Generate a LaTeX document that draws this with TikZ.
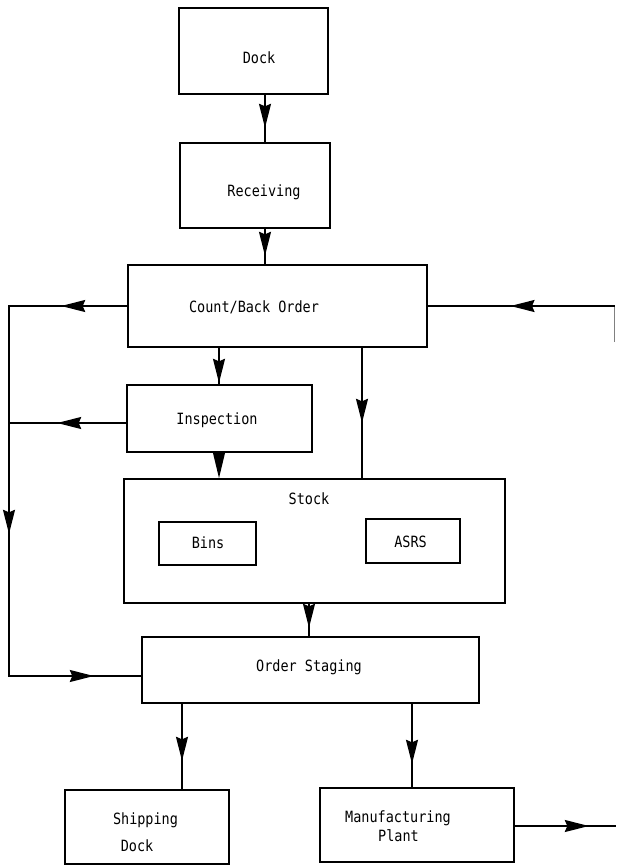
\documentclass[tikz,border=0pt]{standalone}
\usepackage{fontspec}
\setmonofont[FakeStretch=0.87]{DejaVu Sans Mono}
\usetikzlibrary{arrows.meta,decorations.markings}
\tikzset{
  ah/.tip={Stealth[length=24pt,width=12pt,inset=2.5pt]},
  box/.style={draw,line width=1.6pt,inner sep=0pt,minimum width=#1},
  txt/.style={font=\ttfamily\fontsize{15.5}{18}\selectfont,inner sep=0pt,align=center},
  conn/.style={line width=1.6pt},
  faint/.style={line width=0.8pt,gray},
  midarr/.style={postaction={decorate,decoration={markings,mark=at position #1 with {\arrow{ah}}}}}
}
\begin{document}
\begin{tikzpicture}[x=1pt,y=-1pt]
\useasboundingbox (0,0) rectangle (616,867);
% boxes
\node[box=149pt,minimum height=86pt] (dock) at (253.5,51) {};
\node[box=150pt,minimum height=85pt] (recv) at (255,185.5) {};
\node[box=299pt,minimum height=82pt] (count) at (277.5,306) {};
\node[box=185pt,minimum height=67pt] (insp) at (219.5,418.5) {};
\node[box=381pt,minimum height=124pt] (stock) at (314.5,541) {};
\node[box=97pt,minimum height=43pt] (bins) at (207.5,543.5) {};
\node[box=94pt,minimum height=44pt] (asrs) at (413,541) {};
\node[box=337pt,minimum height=66pt] (staging) at (310.5,670) {};
\node[box=164pt,minimum height=74pt] (ship) at (147,827) {};
\node[box=194pt,minimum height=74pt] (manu) at (417,825) {};
% texts
\node[txt] (dockT) at (259,58) {Dock};
\node[txt] (recvT) at (264,192) {Receiving};
\node[txt] (countT) at (254,307) {Count/Back Order};
\node[txt] (inspT) at (217,420) {Inspection};
\node[txt] (stockT) at (309,499) {Stock};
\node[txt] (binsT) at (208,543) {Bins};
\node[txt] (asrsT) at (410.5,542) {ASRS};
\node[txt] (stagingT) at (309,667) {Order Staging};
\node[txt] (shipT1) at (145.5,820) {Shipping};
\node[txt] (shipT2) at (137,846) {Dock};
\node[txt] (manuT1) at (398,818) {Manufacturing};
\node[txt] (manuT2) at (398.5,836) {Plant};
% helper coordinates
\coordinate (sw) at ([yshift=-6pt]staging.west);
\coordinate (iw) at ([yshift=-4.5pt]insp.west);
\coordinate (lcA) at (9,306);
\coordinate (lcB) at (lcA |- sw);
\coordinate (rA) at (614.5,306);
\coordinate (rB) at (614.5,342);
\coordinate (mo) at (616,826);
% vertical flow
\draw[conn,midarr=33pt] ([xshift=11.5pt]dock.south) -- ([xshift=10pt]recv.north);
\draw[conn,midarr=27pt] ([xshift=10pt]recv.south) -- ([xshift=-12.5pt]count.north);
\draw[conn,midarr=35pt] ([xshift=-58.5pt]count.south) -- ([xshift=-0.5pt]insp.north);
\draw[conn,-{Stealth[length=26pt,width=12pt,inset=0pt]}] ([xshift=-0.5pt]insp.south) -- ([xshift=-95.5pt]stock.north);
\draw[conn,midarr=75pt] ([xshift=84.5pt]count.south) -- ([xshift=47.5pt]stock.north);
\draw[conn,midarr=24pt] ([xshift=-5.5pt]stock.south) -- ([xshift=-1.5pt]staging.north);
\draw[conn,midarr=57pt] ([xshift=-128.5pt]staging.south) -- ([xshift=35pt]ship.north);
\draw[conn,midarr=60pt] ([xshift=101.5pt]staging.south) -- ([xshift=-5pt]manu.north);
% left loop
\draw[conn,midarr=66pt,midarr=346pt,midarr=573pt] (count.west) -- (lcA) -- (lcB) -- (sw);
\draw[conn,midarr=69pt] (iw) -- (iw -| lcA);
% right return
\draw[faint] (rB) -- (rA);
\draw[conn,midarr=104pt] (rA) -- (count.east);
% out of manufacturing
\draw[conn,midarr=74pt] ([yshift=-1pt]manu.east) -- (mo);
\end{tikzpicture}
\end{document}
